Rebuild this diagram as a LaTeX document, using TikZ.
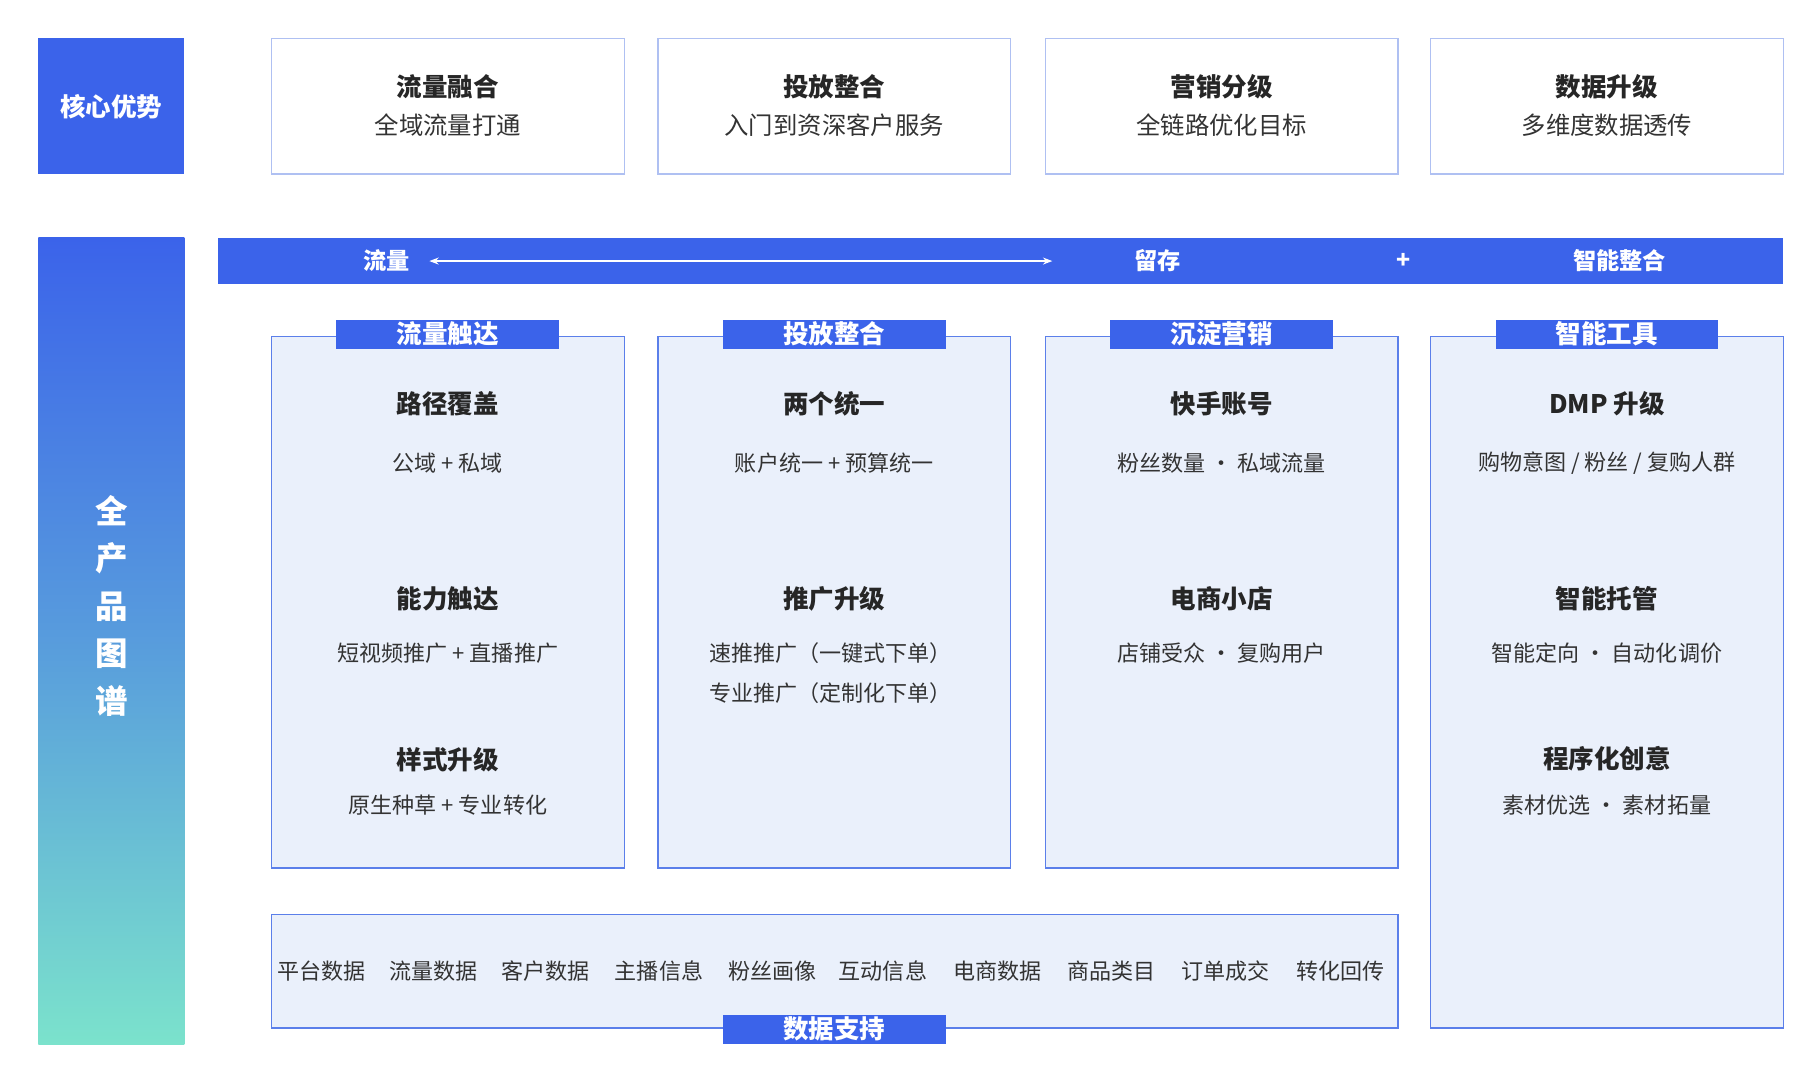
\documentclass[tikz,border=0pt]{standalone}
\usepackage{fontspec}
\setmainfont{Noto Sans CJK SC}
\newfontfamily\cjkb{Noto Sans CJK SC Bold}
\usetikzlibrary{arrows.meta}
\definecolor{mainblue}{HTML}{3B63EA}
\definecolor{lineblue}{HTML}{5B7FEA}
\definecolor{lightline}{HTML}{AFC0F2}
\definecolor{panel}{HTML}{EAF0FB}
\definecolor{teal}{HTML}{7BE2CC}
\definecolor{txt}{HTML}{333333}
\begin{document}
\begin{tikzpicture}[x=0.5pt,y=-0.5pt,
  topbox/.style={draw=lightline,fill=white,line width=0.6pt},
  colbox/.style={draw=lineblue,fill=panel,line width=0.6pt},
  tab/.style={fill=mainblue,text=white,font=\bfseries\fontsize{11}{12}\selectfont,minimum width=96pt,minimum height=12.5pt,inner sep=0pt},
  ttl/.style={text=black!85,font=\bfseries\fontsize{11}{13}\selectfont},
  sub/.style={text=txt,font=\fontsize{10.5}{12}\selectfont},
  sm/.style={text=txt,font=\fontsize{9.5}{11}\selectfont},
  wt/.style={text=white,font=\bfseries\fontsize{10}{12}\selectfont}]
\useasboundingbox (0,0) rectangle (1560,920);
% core advantage
\fill[mainblue] (33,33) rectangle (159,150);
\node[wt,font=\bfseries\fontsize{11}{12}\selectfont] (core) at (96,92) {核心优势};
\foreach \x/\a/\b [count=\i] in {234/流量融合/全域流量打通,567/投放整合/入门到资深客户服务,901/营销分级/全链路优化目标,1233/数据升级/多维度数据透传}{
  \draw[topbox] (\x,33) rectangle ++(304,117);
  \node[ttl] (t\i) at (\x+152,75) {\a};
  \node[sub] (s\i) at (\x+152,108) {\b};
}
% left vertical
\shade[top color=mainblue,bottom color=teal,middle color=mainblue!55!teal] (33,205) rectangle (159,900);
\node[text=white,font=\bfseries\fontsize{14}{20.5}\selectfont,align=center] (all) at (96,522) {全\\产\\品\\图\\谱};
% banner
\fill[mainblue] (188,205) rectangle (1537,245);
\node[wt] (b1) at (333,225) {流量};
\node[wt] (b2) at (998,225) {留存};
\node[wt] (b3) at (1210,225) {+};
\node[wt] (b4) at (1396,225) {智能整合};
\draw[white,line width=0.6pt,{Stealth[length=4pt]}-{Stealth[length=4pt]}] (b1.east)++(10,0) -- ([xshift=-32pt]b2.west);
% columns
\draw[colbox] (234,290) rectangle (538,748);
\draw[colbox] (567,290) rectangle (871,748);
\draw[colbox] (901,290) rectangle (1205,748);
\draw[colbox] (1233,290) rectangle (1537,886);
\node[tab] (c1) at (386,288) {流量触达};
\node[tab] (c2) at (719,288) {投放整合};
\node[tab] (c3) at (1053,288) {沉淀营销};
\node[tab] (c4) at (1385,288) {智能工具};
% column 1
\node[ttl] at (386,348) {路径覆盖};
\node[sm] at (386,399) {公域 + 私域};
\node[ttl] at (386,516) {能力触达};
\node[sm] at (386,563) {短视频推广 + 直播推广};
\node[ttl] at (386,655) {样式升级};
\node[sm] at (386,694) {原生种草 + 专业转化};
% column 2
\node[ttl] at (719,348) {两个统一};
\node[sm] at (719,399) {账户统一 + 预算统一};
\node[ttl] at (719,516) {推广升级};
\node[sm] at (716,563) {速推推广（一键式下单）};
\node[sm] at (716,597) {专业推广（定制化下单）};
% column 3
\node[ttl] at (1053,348) {快手账号};
\node[sm] at (1053,399) {粉丝数量 · 私域流量};
\node[ttl] at (1053,516) {电商小店};
\node[sm] at (1053,563) {店铺受众 · 复购用户};
% column 4
\node[ttl] at (1385,348) {DMP 升级};
\node[sm] at (1385,399) {购物意图 / 粉丝 / 复购人群};
\node[ttl] at (1385,516) {智能托管};
\node[sm] at (1385,563) {智能定向 · 自动化调价};
\node[ttl] at (1385,654) {程序化创意};
\node[sm] at (1385,694) {素材优选 · 素材拓量};
% data support
\draw[colbox] (234,788) rectangle (1205,886);
\foreach \x/\t in {277/平台数据,374/流量数据,470/客户数据,568/主播信息,666/粉丝画像,761/互动信息,860/电商数据,958/商品类目,1056/订单成交,1155/转化回传}{
  \node[sm] at (\x,837) {\t};
}
\node[tab] (c5) at (719,887) {数据支持};
\end{tikzpicture}
\end{document}
